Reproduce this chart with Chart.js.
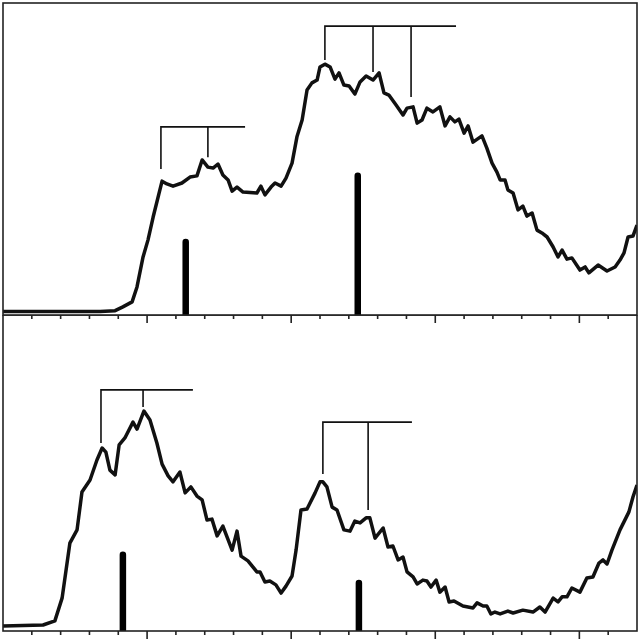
<!DOCTYPE html>
<html>
<head>
<meta charset="utf-8">
<script src="https://cdn.jsdelivr.net/npm/chart.js@4.4.1/dist/chart.umd.min.js"></script>
<style>
  html, body { margin: 0; padding: 0; background: #fff; }
  #wrap { position: relative; width: 640px; height: 640px; overflow: hidden; }
  #topPanel { position: absolute; left: 0; top: 0; }
  #bottomPanel { position: absolute; left: 0; top: 315px; }
</style>
</head>
<body>
<div id="wrap">
  <canvas id="topPanel" width="640" height="326"></canvas>
  <canvas id="bottomPanel" width="640" height="325"></canvas>
</div>
<script>
// wavelength (nm) / absorbance, upper spectrum
const topWl = [200.0,233.7,238.9,241.6,244.8,246.5,248.6,250.3,252.1,255.2,256.9,259.0,262.1,264.9,267.3,269.1,271.1,272.9,274.6,276.3,278.1,279.5,281.2,283.3,288.1,289.5,290.9,293.0,294.4,296.5,298.2,300.3,302.0,303.8,305.5,307.2,309.0,310.0,311.7,313.5,315.2,316.6,318.3,320.1,322.1,323.9,326.0,328.4,330.5,332.2,333.9,336.4,338.8,340.2,342.3,343.7,345.4,347.1,349.2,351.6,353.4,355.1,356.8,358.2,360.0,361.4,363.1,366.2,367.9,369.7,371.4,372.5,374.2,375.2,377.0,378.7,380.4,381.8,383.6,385.3,387.0,388.8,390.9,392.6,394.0,395.7,397.4,400.2,402.0,403.3,406.5,409.6,412.4,414.1,415.5,416.9,418.6,420.0];
const topAbs = [0.011,0.011,0.014,0.026,0.042,0.090,0.186,0.240,0.314,0.429,0.420,0.413,0.423,0.442,0.446,0.497,0.474,0.471,0.484,0.449,0.433,0.397,0.410,0.394,0.391,0.413,0.385,0.410,0.423,0.413,0.439,0.487,0.571,0.625,0.721,0.744,0.753,0.795,0.804,0.795,0.756,0.776,0.737,0.734,0.708,0.747,0.766,0.753,0.776,0.712,0.705,0.673,0.641,0.663,0.667,0.615,0.625,0.663,0.651,0.667,0.606,0.635,0.619,0.628,0.583,0.606,0.554,0.574,0.535,0.487,0.458,0.433,0.433,0.401,0.391,0.337,0.349,0.317,0.327,0.272,0.263,0.250,0.218,0.186,0.208,0.179,0.183,0.144,0.154,0.135,0.160,0.141,0.154,0.176,0.199,0.250,0.253,0.288];

// lower spectrum
const bottomWl = [200.0,213.9,218.0,220.5,223.2,225.7,227.4,230.2,232.6,234.4,235.7,237.1,238.9,240.3,242.3,245.1,246.5,248.9,251.0,253.4,255.2,257.3,259.0,261.4,263.2,265.2,267.3,269.1,270.8,272.5,274.3,276.3,279.5,281.2,282.6,285.0,288.1,289.2,290.9,292.6,294.7,296.5,298.2,300.3,301.7,303.4,305.5,308.3,310.0,311.0,312.4,314.2,315.9,318.3,320.4,322.1,323.9,326.0,327.3,329.1,331.9,333.6,335.3,337.1,338.8,340.2,342.3,343.7,345.7,347.1,348.5,350.3,351.6,353.4,354.8,356.5,359.6,363.1,364.5,366.6,367.9,369.3,370.7,372.5,375.2,377.0,380.4,383.9,386.3,388.1,390.9,392.6,394.0,395.7,397.4,400.2,402.6,404.7,406.8,408.2,409.6,411.3,414.1,417.2,418.6,420.0];
const bottomAbs = [0.016,0.019,0.032,0.104,0.278,0.320,0.440,0.478,0.541,0.579,0.566,0.509,0.494,0.589,0.611,0.661,0.639,0.696,0.668,0.595,0.528,0.491,0.472,0.503,0.437,0.456,0.427,0.415,0.351,0.354,0.301,0.332,0.256,0.316,0.237,0.222,0.187,0.187,0.155,0.158,0.146,0.120,0.142,0.174,0.256,0.383,0.386,0.437,0.472,0.472,0.456,0.392,0.383,0.320,0.316,0.348,0.342,0.358,0.358,0.294,0.326,0.266,0.269,0.225,0.234,0.187,0.171,0.149,0.161,0.158,0.139,0.161,0.123,0.139,0.092,0.095,0.079,0.073,0.089,0.079,0.079,0.054,0.060,0.054,0.063,0.057,0.066,0.060,0.076,0.060,0.104,0.092,0.108,0.108,0.136,0.123,0.168,0.171,0.215,0.225,0.212,0.256,0.320,0.377,0.424,0.462];

// calculated transitions (sticks)
const topStickWl = [263.4, 323.1];
const topStickF = [0.234, 0.446];
const bottomStickWl = [241.6, 323.5];
const bottomStickF = [0.241, 0.152];

// vibronic progression brackets: drop positions, drop ends, bar height, bar end
const topProg1Wl = [254.8, 271.1];
const topProg1End = [0.468, 0.506];
const topProg1Bar = 0.603, topProg1Right = 284.0;
const topProg2Wl = [311.7, 328.4, 341.6];
const topProg2End = [0.817, 0.779, 0.699];
const topProg2Bar = 0.926, topProg2Right = 357.2;

const bottomProg1Wl = [234.0, 248.6];
const bottomProg1End = [0.595, 0.709];
const bottomProg1Bar = 0.763, bottomProg1Right = 265.9;
const bottomProg2Wl = [311.0, 326.7];
const bottomProg2End = [0.497, 0.383];
const bottomProg2Bar = 0.661, bottomProg2Right = 341.9;

const wlMin = 200, wlMax = 420, tickStep = 10, majorStep = 50;

function pairs(xs, ys) {
    const out = [];
    for (let i = 0; i < Math.min(xs.length, ys.length); i++) out.push({x: xs[i], y: ys[i]});
    return out;
}

function sticks(xs, hs) {
    const out = [];
    xs.forEach(function(x, i) {
        out.push({x: x, y: 0}, {x: x, y: hs[i]}, {x: x, y: null});
    });
    return out;
}

function bracket(xs, ends, bar, right) {
    const out = [{x: right, y: bar}, {x: xs[0], y: bar}, {x: xs[0], y: ends[0]}, {x: xs[0], y: null}];
    for (let i = 1; i < xs.length; i++) {
        out.push({x: xs[i], y: bar}, {x: xs[i], y: ends[i]}, {x: xs[i], y: null});
    }
    return out;
}

const frameTicks = {
    id: 'frameTicks',
    afterDraw(chart) {
        const ctx = chart.ctx;
        const a = chart.chartArea;
        const x = chart.scales.x;
        ctx.save();
        ctx.strokeStyle = '#222';
        ctx.lineWidth = 1.6;
        ctx.strokeRect(a.left, a.top, a.right - a.left, a.bottom - a.top);
        ctx.beginPath();
        for (let v = wlMin + tickStep; v < wlMax; v += tickStep) {
            const px = x.getPixelForValue(v);
            const len = (v % majorStep === 0) ? 8 : 4;
            ctx.moveTo(px, a.bottom);
            ctx.lineTo(px, a.bottom + len);
        }
        ctx.stroke();
        ctx.restore();
    }
};

function makePanel(id, wl, abs, stWl, stF, br1, br2, pad) {
    return new Chart(document.getElementById(id), {
        type: 'scatter',
        data: {
            datasets: [{
                data: pairs(wl, abs),
                showLine: true,
                borderColor: '#111',
                borderWidth: 3.5,
                borderJoinStyle: 'round',
                pointRadius: 0,
                tension: 0
            }, {
                data: sticks(stWl, stF),
                showLine: true,
                borderColor: '#000',
                borderWidth: 6.5,
                borderCapStyle: 'round',
                pointRadius: 0,
                spanGaps: false,
                clip: 0
            }, {
                data: bracket.apply(null, br1),
                showLine: true,
                borderColor: '#111',
                borderWidth: 1.6,
                pointRadius: 0,
                spanGaps: false
            }, {
                data: bracket.apply(null, br2),
                showLine: true,
                borderColor: '#111',
                borderWidth: 1.6,
                pointRadius: 0,
                spanGaps: false
            }]
        },
        options: {
            responsive: false,
            animation: false,
            layout: { padding: pad },
            plugins: { legend: { display: false }, tooltip: { enabled: false } },
            scales: {
                x: { type: 'linear', display: false, min: wlMin, max: wlMax },
                y: { display: false, min: 0, max: 1 }
            }
        },
        plugins: [frameTicks]
    });
}

const topChart = makePanel('topPanel', topWl, topAbs, topStickWl, topStickF,
    [topProg1Wl, topProg1End, topProg1Bar, topProg1Right],
    [topProg2Wl, topProg2End, topProg2Bar, topProg2Right],
    {top: 3, left: 3, right: 3, bottom: 11});

const bottomChart = makePanel('bottomPanel', bottomWl, bottomAbs, bottomStickWl, bottomStickF,
    [bottomProg1Wl, bottomProg1End, bottomProg1Bar, bottomProg1Right],
    [bottomProg2Wl, bottomProg2End, bottomProg2Bar, bottomProg2Right],
    {top: 0, left: 3, right: 3, bottom: 9});
</script>
</body>
</html>
